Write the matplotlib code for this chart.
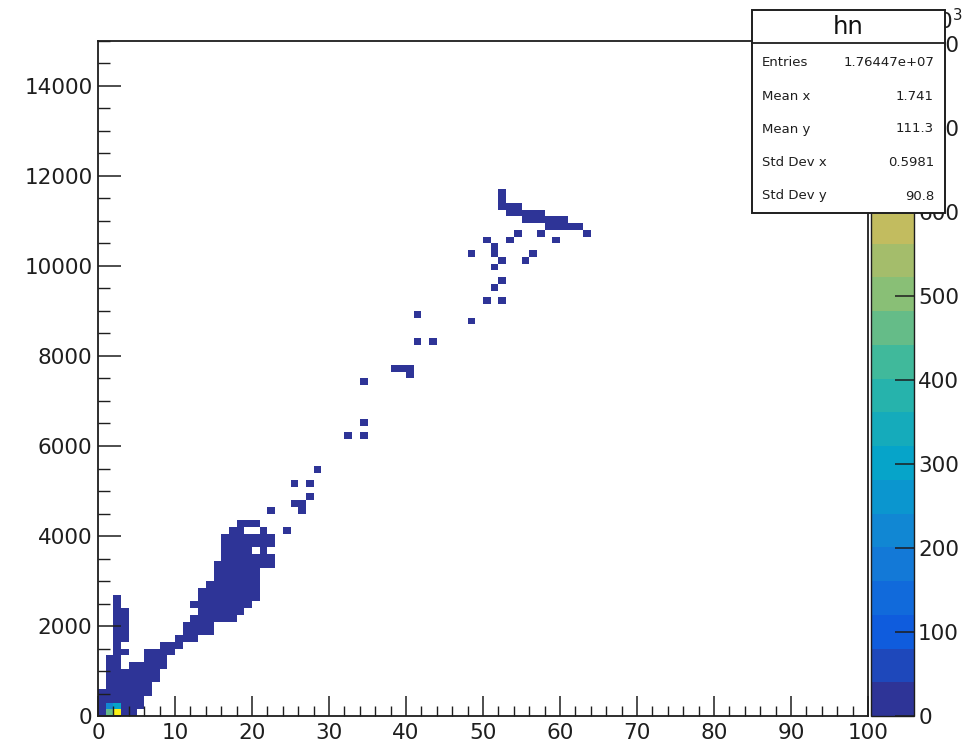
import numpy as np
import matplotlib
matplotlib.use("Agg")
import matplotlib.pyplot as plt
from matplotlib.colors import ListedColormap, BoundaryNorm, LinearSegmentedColormap
from matplotlib.patches import Rectangle
from matplotlib.lines import Line2D
from matplotlib.ticker import MultipleLocator, FixedLocator, FixedFormatter

# ---- histogram binning ----
X_LO, X_HI, NX = 0, 100, 100
Y_LO, Y_HI, NY = 0, 15000, 100

# ---- filled column segments: x bin, y range [y0, y1), bin content ----
seg_x = [0, 1, 2, 3, 3, 3, 4, 5, 6, 7, 8, 9, 10, 11,
         12, 12, 13, 14, 15, 16, 17, 18, 19, 19, 20, 20, 20, 21, 22, 22,
         52, 53, 54, 55, 56, 57, 58, 59, 60, 61, 62]
seg_y0 = [0, 0, 0, 0, 1350, 1650, 0, 150, 450, 750, 1050, 1350, 1500, 1650,
          1650, 2400, 1800, 1800, 2100, 2100, 2100, 2250, 2400, 4200, 2550, 3750, 4200, 3300, 3300, 3750,
          11250, 11100, 11100, 10950, 10950, 10950, 10800, 10800, 10800, 10800, 10800]
seg_y1 = [600, 1350, 2700, 1050, 1500, 2400, 1200, 1200, 1500, 1500, 1650, 1650, 1800, 2100,
          2250, 2550, 2850, 3000, 3450, 4050, 4200, 4350, 4050, 4350, 3600, 4050, 4350, 4200, 3600, 4050,
          11700, 11400, 11400, 11250, 11250, 11250, 11100, 11100, 11100, 10950, 10950]
seg_n = [15000] * len(seg_x)

# ---- isolated bins: x, y (bin lower edges), content ----
cell_x = [22, 24, 26, 25, 26, 27, 25, 27, 28, 32, 34, 34, 34, 38, 39, 40, 40,
          41, 41, 43, 48, 48, 50, 52, 51, 52, 51, 52, 51, 51, 50, 53, 54, 55,
          56, 57, 59, 63]
cell_y = [4500, 4050, 4500, 4650, 4650, 4800, 5100, 5100, 5400, 6150, 6150, 6450,
          7350, 7650, 7650, 7650, 7500, 8850, 8250, 8250, 8700, 10200, 9150, 9150,
          9450, 9600, 9900, 10050, 10200, 10350, 10500, 10500, 10650, 10050,
          10200, 10650, 10500, 10650]
cell_n = [6000] * len(cell_x)

# ---- high-occupancy bins near the origin ----
peak_x = [1, 2, 1, 2]
peak_y = [0, 0, 150, 150]
peak_n = [480000, 804000, 240000, 300000]

Z_MAX = 804000
N_CONTOURS = 20
cbar_ticks = [0, 100000, 200000, 300000, 400000, 500000, 600000, 700000, 800000]
cbar_labels = ["0", "100", "200", "300", "400", "500", "600", "700", "800"]

stat_names = ["Entries", "Mean x", "Mean y", "Std Dev x", "Std Dev y"]
stat_values = ["1.76447e+07", "1.741", "111.3", "0.5981", "90.8"]
hist_name = "hn"

# ---- fill the 2D histogram ----
x_edges = np.linspace(X_LO, X_HI, NX + 1)
y_edges = np.linspace(Y_LO, Y_HI, NY + 1)
H = np.zeros((NX, NY))


def xbin(v):
    return int(np.searchsorted(x_edges, v, side="right") - 1)


def ybin(v):
    return int(np.searchsorted(y_edges, v, side="right") - 1)


for x, y0, y1, n in zip(seg_x, seg_y0, seg_y1, seg_n):
    H[xbin(x), ybin(y0):ybin(y1)] = n
for x, y, n in zip(cell_x, cell_y, cell_n):
    H[xbin(x), ybin(y)] = n
for x, y, n in zip(peak_x, peak_y, peak_n):
    H[xbin(x), ybin(y)] = n

Hm = np.ma.masked_where(H <= 0, H)

# ---- ROOT kBird palette, sampled into contour bands ----
stops = [0.0, 0.125, 0.25, 0.375, 0.5, 0.625, 0.75, 0.875, 1.0]
red = [0.2082, 0.0592, 0.0780, 0.0232, 0.1802, 0.5301, 0.8186, 0.9956, 0.9764]
green = [0.1664, 0.3599, 0.5041, 0.6419, 0.7178, 0.7492, 0.7328, 0.7862, 0.9832]
blue = [0.5293, 0.8684, 0.8385, 0.7914, 0.6425, 0.4662, 0.3499, 0.1968, 0.0539]
bird = LinearSegmentedColormap.from_list(
    "bird", list(zip(stops, zip(red, green, blue))))
band_cols = bird((np.arange(N_CONTOURS) + 0.5) / N_CONTOURS)
cmap = ListedColormap(band_cols)
levels = np.linspace(0, Z_MAX, N_CONTOURS + 1)
norm = BoundaryNorm(levels, cmap.N)

W, Hpx = 964, 748
fig = plt.figure(figsize=(W / 100, Hpx / 100), dpi=100)
fig.patch.set_facecolor("white")


def fx(px):
    return px / W


def fy(py):
    return 1 - py / Hpx


TXT = "#1e1e1e"
ax = fig.add_axes([fx(98), fy(716), fx(868) - fx(98), fy(41) - fy(716)])
mesh = ax.pcolormesh(x_edges, y_edges, Hm.T, cmap=cmap, norm=norm,
                     edgecolors="none", antialiased=False)
ax.set_xlim(X_LO, X_HI)
ax.set_ylim(Y_LO, Y_HI)

ax.xaxis.set_major_locator(MultipleLocator(10))
ax.xaxis.set_minor_locator(MultipleLocator(2))
ax.yaxis.set_major_locator(MultipleLocator(2000))
ax.yaxis.set_minor_locator(MultipleLocator(500))
ax.tick_params(axis="x", which="major", direction="in", length=14.5, width=1.1,
               pad=5, labelsize=15.5, top=False, colors=TXT)
ax.tick_params(axis="x", which="minor", direction="in", length=7.5, width=1.0,
               top=False, colors=TXT)
ax.tick_params(axis="y", which="major", direction="in", length=16.5, width=1.1,
               pad=4, labelsize=15.5, right=False, colors=TXT)
ax.tick_params(axis="y", which="minor", direction="in", length=8.5, width=1.0,
               right=False, colors=TXT)
for lab in ax.get_xticklabels() + ax.get_yticklabels():
    lab.set_family("DejaVu Sans")
for sp in ax.spines.values():
    sp.set_linewidth(1.3)
    sp.set_color(TXT)

# ---- colour palette axis ----
cax = fig.add_axes([fx(871), fy(716), fx(914) - fx(871), fy(41) - fy(716)])
cb = fig.colorbar(mesh, cax=cax, boundaries=levels, ticks=cbar_ticks)
cb.outline.set_linewidth(1.0)
cb.outline.set_edgecolor(TXT)
cax.set_ylim(0, Z_MAX)
cax.yaxis.set_major_locator(FixedLocator(cbar_ticks))
cax.yaxis.set_major_formatter(FixedFormatter(cbar_labels))
cax.tick_params(axis="y", which="major", direction="in", length=14, width=1.1,
                pad=3, labelsize=15.5, colors=TXT)
cax.tick_params(axis="y", which="minor", length=0)
for lab in cax.get_yticklabels():
    lab.set_family("DejaVu Sans")
fig.text(fx(963), fy(21), r"$\times10^{3}$", ha="right", va="center",
         fontsize=15.5, color=TXT, zorder=5)

# ---- statistics box ----
bx0, bx1, by0, by1, bsep = 752, 945, 10, 213, 43
fig.add_artist(Rectangle((fx(bx0), fy(by1)), fx(bx1) - fx(bx0), fy(by0) - fy(by1),
                         transform=fig.transFigure, facecolor="white",
                         edgecolor=TXT, linewidth=1.4, zorder=10))
fig.add_artist(Line2D([fx(bx0), fx(bx1)], [fy(bsep), fy(bsep)],
                      transform=fig.transFigure, color=TXT, linewidth=1.3,
                      zorder=11))
fig.text(fx((bx0 + bx1) / 2), fy(27), hist_name, ha="center", va="center",
         fontsize=17.5, family="DejaVu Sans", color="#111111", zorder=12)
row_y = [63, 97, 129, 163, 196]
for name, val, ry in zip(stat_names, stat_values, row_y):
    fig.text(fx(762), fy(ry), name, ha="left", va="center", fontsize=9.5,
             family="DejaVu Sans", color=TXT, zorder=12)
    fig.text(fx(934), fy(ry), val, ha="right", va="center", fontsize=9.5,
             family="DejaVu Sans", color=TXT, zorder=12)

fig.savefig("out.png", dpi=100, facecolor="white")
